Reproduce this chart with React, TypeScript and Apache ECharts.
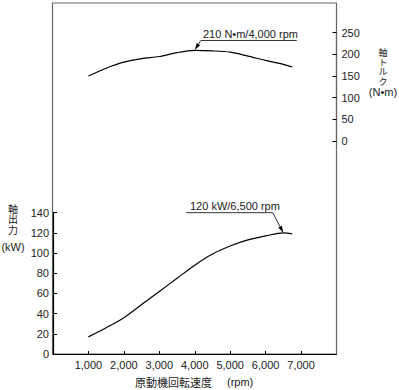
import React, { useEffect, useRef } from "react";
import * as echarts from "echarts";

const rpm = [1000, 1500, 2000, 2500, 3000, 3500, 4000, 4500, 5000, 5500, 6000, 6500, 6750];
const torqueNm = [150, 168, 182, 190, 195, 204, 209, 208, 205, 196, 186, 177, 171];
const powerKW = [17, 26, 36, 49, 62, 75, 88, 99, 107, 113, 117, 120, 119];

const torquePeak = [4000, 210];
const powerPeak = [6500, 120];
const torqueNote = "210 N•m/4,000 rpm";
const powerNote = "120 kW/6,500 rpm";
const xTitle = "原動機回転速度";
const xUnit = "(rpm)";
const leftName = ["軸", "出", "力"];
const rightName = ["軸", "ト", "ル", "ク"];

const FONT = "'Liberation Sans', Arial, Helvetica, sans-serif";
const CJK = "'Noto Sans CJK JP', sans-serif";

function leader(tip: number[], dx: number, dy: number, ux0: number, ux1: number) {
  const sx = tip[0] + dx, sy = tip[1] + dy;
  const len = Math.hypot(dx, dy);
  const ux = -dx / len, uy = -dy / len;
  const px = -uy, py = ux;
  const L = 7, H = 2;
  const bx = tip[0] - ux * L, by = tip[1] - uy * L;
  return [
    { type: "polyline", silent: true, shape: { points: [[tip[0] + ux0, sy], [tip[0] + ux1, sy]] }, style: { stroke: "#000", lineWidth: 0.8, fill: "none" } },
    { type: "line", silent: true, shape: { x1: sx, y1: sy, x2: bx, y2: by }, style: { stroke: "#000", lineWidth: 0.8 } },
    { type: "polygon", silent: true, shape: { points: [[tip[0], tip[1]], [bx + px * H, by + py * H], [bx - px * H, by - py * H]] }, style: { fill: "#000" } },
  ];
}

export default function App() {
  const ref = useRef<HTMLDivElement>(null);
  useEffect(() => {
    if (!ref.current) return;
    const chart = echarts.init(ref.current, null, { renderer: "svg" });
    const L = 53, W = 283.5;
    const lbl = { fontFamily: FONT, fontSize: 11, color: "#222" };
    const textEls: any[] = [
      { type: "text", x: 203, y: 34, style: { text: torqueNote, fill: "#222", font: `11px ${FONT}`, verticalAlign: "middle" } },
      { type: "text", x: 190, y: 205.7, style: { text: powerNote, fill: "#222", font: `11px ${FONT}`, verticalAlign: "middle" } },
      ...leftName.map((c, i) => ({ type: "text", x: 13, y: 208 + i * 10.6, style: { text: c, fill: "#222", font: `10px ${CJK}`, lineHeight: 10, align: "center", verticalAlign: "middle" } })),
      { type: "text", x: 13, y: 246.7, style: { text: "(kW)", fill: "#222", font: `11px ${FONT}`, align: "center", verticalAlign: "middle" } },
      ...rightName.map((c, i) => ({ type: "text", x: 383, y: 52.5 + i * 9.6, style: { text: c, fill: "#222", font: `9px ${CJK}`, lineHeight: 9, align: "center", verticalAlign: "middle" } })),
      { type: "text", x: 383, y: 92, style: { text: "(N•m)", fill: "#222", font: `11px ${FONT}`, align: "center", verticalAlign: "middle" } },
      { type: "text", x: 135, y: 381.7, style: { text: xTitle, fill: "#222", font: `11px ${CJK}`, verticalAlign: "middle" } },
      { type: "text", x: 227, y: 381.7, style: { text: xUnit, fill: "#222", font: `11px ${FONT}`, verticalAlign: "middle" } },
    ];
    const frame = {
      type: "rect", silent: true, z: -1,
      shape: { x: 52.5, y: 3, width: 284, height: 351 },
      style: { fill: "none", stroke: "#666", lineWidth: 1.2 },
    };
    chart.setOption({
      animation: false,
      backgroundColor: "#fff",
      grid: [
        { left: L, top: 212.7, width: W, height: 141.3 },
        { left: L, top: 32.7, width: W, height: 108.3 },
      ],
      xAxis: [
        {
          gridIndex: 0, type: "value", min: 0, max: 8000, interval: 1000,
          axisLine: { show: true, onZero: false, lineStyle: { color: "#000", width: 1.2 } },
          axisTick: { show: true, inside: true, length: 3, lineStyle: { color: "#000" } },
          splitLine: { show: false },
          axisLabel: {
            ...lbl, margin: 5, showMinLabel: false, showMaxLabel: false,
            formatter: (v: number) => v.toLocaleString("en-US"),
          },
        },
        { gridIndex: 1, type: "value", min: 0, max: 8000, show: false },
      ],
      yAxis: [
        {
          gridIndex: 0, type: "value", min: 0, max: 140, interval: 20,
          axisLine: { show: true, onZero: false, lineStyle: { color: "#000", width: 1.2 } },
          axisTick: { show: true, inside: true, length: 4, lineStyle: { color: "#000" } },
          splitLine: { show: false },
          axisLabel: { ...lbl, margin: 4 },
        },
        {
          gridIndex: 1, type: "value", position: "right", min: 0, max: 250, interval: 50,
          axisLine: { show: true, onZero: false, lineStyle: { color: "#666", width: 1.2 } },
          axisTick: { show: true, inside: true, length: 4, lineStyle: { color: "#000" } },
          splitLine: { show: false },
          axisLabel: { ...lbl, margin: 5 },
        },
      ],
      series: [
        {
          type: "line", xAxisIndex: 0, yAxisIndex: 0, clip: false,
          data: rpm.map((r, i) => [r, powerKW[i]]),
          smooth: 0.3, showSymbol: false, lineStyle: { color: "#000", width: 1.2 },
        },
        {
          type: "line", xAxisIndex: 1, yAxisIndex: 1, clip: false,
          data: rpm.map((r, i) => [r, torqueNm[i]]),
          smooth: 0.3, showSymbol: false, lineStyle: { color: "#000", width: 1.2 },
        },
      ],
      graphic: [frame, ...textEls],
    });
    const tp = chart.convertToPixel({ xAxisIndex: 1, yAxisIndex: 1 }, torquePeak) as number[];
    const pp = chart.convertToPixel({ xAxisIndex: 0, yAxisIndex: 0 }, powerPeak) as number[];
    chart.setOption({
      graphic: [
        frame,
        ...textEls,
        ...leader(tp, 6, -9.5, 6, 102),
        ...leader(pp, -10.6, -20.2, -97, -10.6),
      ],
    }, { replaceMerge: ["graphic"] });
    return () => chart.dispose();
  }, []);
  return <div ref={ref} style={{ position: "absolute", left: 0, top: 0, width: 399, height: 390 }} />;
}
